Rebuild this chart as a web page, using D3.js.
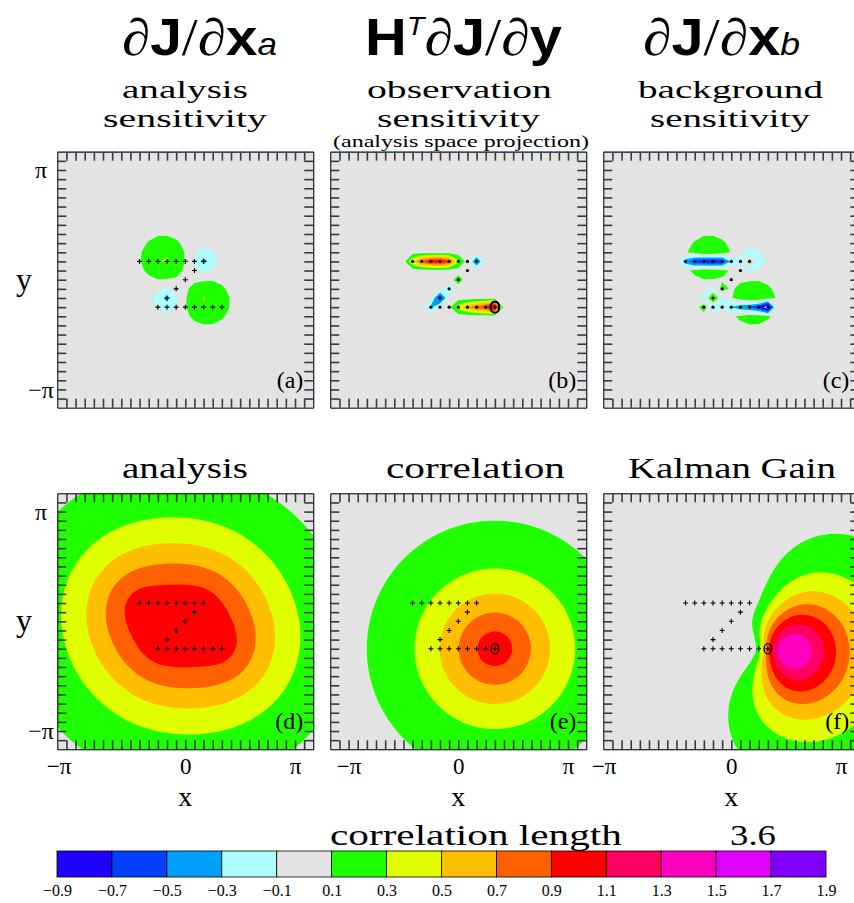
<!DOCTYPE html>
<html><head><meta charset="utf-8">
<script src="https://cdn.jsdelivr.net/npm/d3@7"></script>
<style>body{margin:0;background:#fff;} svg{display:block;}</style>
</head><body>
<svg id="chart" width="854" height="903"></svg>
<script>
// ---------------- data (grid units: 1 unit = pi/12) ----------------
const obsX = [-5,-4,-3,-2,-1,0,1,2, 1,0,-1,-2, -3,-2,-1,0,1,2,3,4];
const obsY = [2,2,2,2,2,2,2,2, 1,0,-1,-2, -3,-3,-3,-3,-3,-3,-3,-3];
const targetObs = 19;
// H^T dJ/dy values read at each observation
const obsSensitivity = [0.5,0.85,1.02,1.06,0.9,0.35,0.0,-0.55, 0.0,0.2,-0.2,-0.75, -0.35,0.0,0.05,0.4,0.65,0.82,0.95,1.3];
// dJ/dx_a blobs (centre, amplitude, width)
const blobX = [-2.4, 2.4, 2.1, -2.05];
const blobY = [2.35, -2.45, 2.05, -2.1];
const blobAmp = [0.325, 0.325, -0.38, -0.38];
const blobWidth = [1.6, 1.6, 0.85, 0.85];
const corrLength = 3.6;
const obsErrVar = 0.01;
const levels = [-0.9,-0.7,-0.5,-0.3,-0.1,0.1,0.3,0.5,0.7,0.9,1.1,1.3,1.5,1.7,1.9];
const bandColors = ["#2000ff","#0040ff","#00a0ff","#b0ffff","#e3e3e3","#1eff00","#dfff00","#ffbf00","#ff6000","#ff0000","#ff0060","#ff00c0","#e000ff","#8000ff"];
const levelLabels = ["−0.9","−0.7","−0.5","−0.3","−0.1","0.1","0.3","0.5","0.7","0.9","1.1","1.3","1.5","1.7","1.9"];
const piTickValues = [-Math.PI, 0, Math.PI];
const piTickLabels = ["−π","0","π"];
const yTickValues = [Math.PI, -Math.PI];
const yTickLabels = ["π","−π"];
const panelLetters = ["(a)","(b)","(c)","(d)","(e)","(f)"];
const bottomTitles = ["analysis","correlation","Kalman Gain"];

// ---------------- layout ----------------
const svg = d3.select("#chart");
const unit = Math.PI / 12;
const half = 14 * unit;
const S = 256;
const colX = [57.3, 330.3, 603.3];
const rowY = [151.7, 493.3];
const serif = "'Liberation Serif', 'DejaVu Serif', serif";
const sans = "'Liberation Sans', Arial, sans-serif";

function fit(sel, left, right) {
  const bb = sel.node().getBBox();
  const s = (right - left) / bb.width;
  sel.attr("transform", `translate(${left},0) scale(${s},1) translate(${-bb.x},0)`);
}

// ---------------- fields ----------------
function soar(r) { const s = r / corrLength; return (1 + s) * Math.exp(-s); }
function solve(A, b) {
  const n = b.length, M = A.map((row, i) => [...row, b[i]]);
  for (let k = 0; k < n; k++) {
    let p = k;
    for (let i = k + 1; i < n; i++) if (Math.abs(M[i][k]) > Math.abs(M[p][k])) p = i;
    [M[k], M[p]] = [M[p], M[k]];
    for (let i = k + 1; i < n; i++) { const f = M[i][k] / M[k][k]; for (let j = k; j <= n; j++) M[i][j] -= f * M[k][j]; }
  }
  const x = new Array(n).fill(0);
  for (let i = n - 1; i >= 0; i--) { let s = M[i][n]; for (let j = i + 1; j < n; j++) s -= M[i][j] * x[j]; x[i] = s / M[i][i]; }
  return x;
}
const nObs = obsX.length;
const Amat = d3.range(nObs).map(i => d3.range(nObs).map(j =>
  soar(Math.hypot(obsX[i] - obsX[j], obsY[i] - obsY[j])) + (i === j ? obsErrVar : 0)));
const wAnal = solve(Amat, new Array(nObs).fill(1));
const wGain = solve(Amat, d3.range(nObs).map(i => i === targetObs ? 1 : 0));

function fa(u, v) {
  let s = 0;
  for (let k = 0; k < blobX.length; k++)
    s += blobAmp[k] * Math.exp(-((u - blobX[k]) ** 2 + (v - blobY[k]) ** 2) / (2 * blobWidth[k] ** 2));
  return s;
}
function fbAt(u, v) {
  for (let k = 0; k < nObs; k++) if (Math.abs(obsX[k] - u) < 1e-6 && Math.abs(obsY[k] - v) < 1e-6) return obsSensitivity[k];
  return 0;
}
function fd(u, v) { let s = 0; for (let k = 0; k < nObs; k++) s += wAnal[k] * soar(Math.hypot(u - obsX[k], v - obsY[k])); return s; }
function fe(u, v) { return soar(Math.hypot(u - obsX[targetObs], v - obsY[targetObs])); }
function ff(u, v) { let s = 0; for (let k = 0; k < nObs; k++) s += wGain[k] * soar(Math.hypot(u - obsX[k], v - obsY[k])); return s; }

function buildGrid(lo, hi, step, fn) {
  const n = Math.round((hi - lo) / step) + 1, vals = new Array(n * n);
  for (let j = 0; j < n; j++) for (let i = 0; i < n; i++) vals[j * n + i] = fn(lo + i * step, hi - j * step);
  return { n, lo, hi, step, vals };
}
const fields = [
  buildGrid(-16, 16, 1, fa),
  buildGrid(-16, 16, 1, fbAt),
  buildGrid(-16, 16, 1, (u, v) => fa(u, v) - fbAt(u, v)),
  buildGrid(-15, 15, 0.5, fd),
  buildGrid(-15, 15, 0.5, fe),
  buildGrid(-15, 15, 0.5, ff)
];

// ---------------- panels ----------------
const defs = svg.append("defs");
const tickVals = d3.range(-13, 14).map(k => k * unit);
const piLabelDx = [-17, 0, -18];

fields.forEach((grid, p) => {
  const c = p % 3, r = Math.floor(p / 3);
  const x0 = colX[c], y0 = rowY[r];
  const xS = d3.scaleLinear().domain([-half, half]).range([x0, x0 + S]);
  const yS = d3.scaleLinear().domain([-half, half]).range([y0 + S, y0]);
  defs.append("clipPath").attr("id", "clip" + p).append("rect")
    .attr("x", x0).attr("y", y0).attr("width", S).attr("height", S);
  const g = svg.append("g");
  const fg = g.append("g").attr("clip-path", `url(#clip${p})`);
  fg.append("rect").attr("x", x0).attr("y", y0).attr("width", S).attr("height", S).attr("fill", "#ffffff");
  const contours = d3.contours().size([grid.n, grid.n]).thresholds(levels)(grid.vals);
  const proj = d3.geoTransform({
    point(x, y) { this.stream.point(xS((grid.lo + (x - 0.5) * grid.step) * unit), yS((grid.hi - (y - 0.5) * grid.step) * unit)); }
  });
  const path = d3.geoPath(proj);
  fg.selectAll("path.band").data(contours).join("path").attr("class", "band")
    .attr("d", path).attr("fill", (d, i) => bandColors[i] || "none");

  // observations
  const obsG = fg.append("g");
  obsX.forEach((ox, k) => {
    const px = xS(ox * unit), py = yS(obsY[k] * unit);
    if (c === 0 || r === 1) {
      obsG.append("path").attr("d", `M${px - 2.5},${py}H${px + 2.5}M${px},${py - 2.5}V${py + 2.5}`)
        .attr("stroke", "#000").attr("stroke-width", 1.1);
    } else {
      obsG.append("circle").attr("cx", px).attr("cy", py).attr("r", 1.6).attr("fill", "#000");
    }
  });
  if (p === 1 || p === 4 || p === 5) {
    const px = xS(obsX[targetObs] * unit), py = yS(obsY[targetObs] * unit);
    obsG.append("ellipse").attr("cx", px).attr("cy", py)
      .attr("rx", p === 1 ? 4.3 : 3.8).attr("ry", p === 1 ? 5.6 : 5.2)
      .attr("fill", "none").attr("stroke", "#000").attr("stroke-width", p === 1 ? 2.2 : 1.3);
  }

  // ticks and frame
  const tickStyle = sel => {
    sel.selectAll(".tick line").attr("stroke", "#3a3a3a").attr("stroke-width", 1.6);
    sel.select(".domain").attr("stroke", "#000").attr("stroke-width", 1);
  };
  g.append("g").attr("transform", `translate(0,${y0})`)
    .call(d3.axisTop(xS).tickValues(tickVals).tickSize(-9).tickSizeOuter(0).tickFormat("")).call(tickStyle);
  g.append("g").attr("transform", `translate(0,${y0 + S})`)
    .call(d3.axisBottom(xS).tickValues(tickVals).tickSize(-9).tickSizeOuter(0).tickFormat("")).call(tickStyle);
  g.append("g").attr("transform", `translate(${x0},0)`)
    .call(d3.axisLeft(yS).tickValues(tickVals).tickSize(-9).tickSizeOuter(0).tickFormat("")).call(tickStyle);
  g.append("g").attr("transform", `translate(${x0 + S},0)`)
    .call(d3.axisRight(yS).tickValues(tickVals).tickSize(-9).tickSizeOuter(0).tickFormat("")).call(tickStyle);

  // panel letter
  g.append("text").attr("x", x0 + S - 10).attr("y", y0 + S - 20).attr("text-anchor", "end")
    .attr("font-family", serif).attr("font-size", 24).text(panelLetters[p]);

  // x labels on bottom row
  if (r === 1) {
    const ax = g.append("g").attr("transform", `translate(0,${y0 + S})`)
      .call(d3.axisBottom(xS).tickValues(piTickValues).tickSize(0).tickPadding(8)
        .tickFormat((d, i) => piTickLabels[i]));
    ax.select(".domain").remove();
    ax.selectAll("text").attr("font-family", serif).attr("font-size", 23).attr("fill", "#000")
      .attr("dx", (d, i) => i === 0 ? piLabelDx[c] : 0);
    g.append("text").attr("x", x0 + S / 2).attr("y", 806).attr("text-anchor", "middle")
      .attr("font-family", serif).attr("font-size", 28).text("x");
  }
  // y labels on left column
  if (c === 0) {
    const ay = g.append("g").attr("transform", `translate(41,0)`)
      .call(d3.axisLeft(yS).tickValues(yTickValues).tickSize(0).tickPadding(0)
        .tickFormat((d, i) => yTickLabels[i]));
    ay.select(".domain").remove();
    ay.selectAll("text").attr("font-family", serif).attr("font-size", 24).attr("fill", "#000")
      .attr("text-anchor", "middle").attr("x", 0);
    g.append("text").attr("x", 24).attr("y", y0 + S / 2 + 10).attr("text-anchor", "middle")
      .attr("font-family", serif).attr("font-size", 32).text("y");
  }
});

// ---------------- titles ----------------
function bigTitle(parts, left, right) {
  const t = svg.append("text").attr("y", 55).attr("font-size", 52);
  parts.forEach(pt => {
    const ts = t.append("tspan").text(pt.t).attr("font-family", pt.f || sans);
    if (pt.w) ts.attr("font-weight", pt.w);
    if (pt.s) ts.attr("font-style", pt.s);
    if (pt.z) ts.attr("font-size", pt.z);
    if (pt.dy) ts.attr("dy", pt.dy);
  });
  fit(t, left, right);
}
bigTitle([{t:"∂", f:serif, s:"italic"}, {t:"J", w:"bold"}, {t:"/", f:serif}, {t:"∂", f:serif, s:"italic"}, {t:"x", w:"bold"}, {t:"a", s:"italic", z:32}], 122, 277);
bigTitle([{t:"H", w:"bold"}, {t:"T", s:"italic", z:26, dy:-20}, {t:"∂", f:serif, s:"italic", dy:20}, {t:"J", w:"bold"}, {t:"/", f:serif}, {t:"∂", f:serif, s:"italic"}, {t:"y", w:"bold"}], 365, 562);
bigTitle([{t:"∂", f:serif, s:"italic"}, {t:"J", w:"bold"}, {t:"/", f:serif}, {t:"∂", f:serif, s:"italic"}, {t:"x", w:"bold"}, {t:"b", s:"italic", z:32}], 643, 800);

function fitText(str, left, right, y, size) {
  const t = svg.append("text").attr("y", y).attr("font-family", serif).attr("font-size", size).text(str);
  fit(t, left, right);
  return t;
}
fitText("analysis", 122, 248, 98.5, 26);
fitText("sensitivity", 103, 267, 127.5, 26);
fitText("observation", 367, 552, 98.5, 26);
fitText("sensitivity", 377, 540, 127.5, 26);
fitText("(analysis space projection)", 333, 589, 147, 17);
fitText("background", 638, 823, 98.5, 26);
fitText("sensitivity", 650, 810, 127.5, 26);
fitText(bottomTitles[0], 122, 248, 478, 30);
fitText(bottomTitles[1], 386, 565, 478, 30);
fitText(bottomTitles[2], 628, 836, 478, 30);

// ---------------- colour bar ----------------
const cbX = d3.scaleLinear().domain([levels[0], levels[levels.length - 1]]).range([57, 826]);
const cbG = svg.append("g");
cbG.selectAll("rect").data(bandColors).join("rect")
  .attr("x", (d, i) => cbX(levels[i])).attr("y", 851)
  .attr("width", (d, i) => cbX(levels[i + 1]) - cbX(levels[i])).attr("height", 26)
  .attr("fill", d => d).attr("stroke", "#000").attr("stroke-width", 0.8);
const cbAxis = cbG.append("g").attr("transform", "translate(0,877)")
  .call(d3.axisBottom(cbX).tickValues(levels).tickSize(0).tickPadding(8).tickFormat((d, i) => levelLabels[i]));
cbAxis.select(".domain").remove();
cbAxis.selectAll("text").attr("font-family", serif).attr("font-size", 16).attr("fill", "#000");
fitText("correlation length", 330, 622, 845, 30);
fitText(String(corrLength), 730, 776, 845, 30);
</script>
</body></html>
